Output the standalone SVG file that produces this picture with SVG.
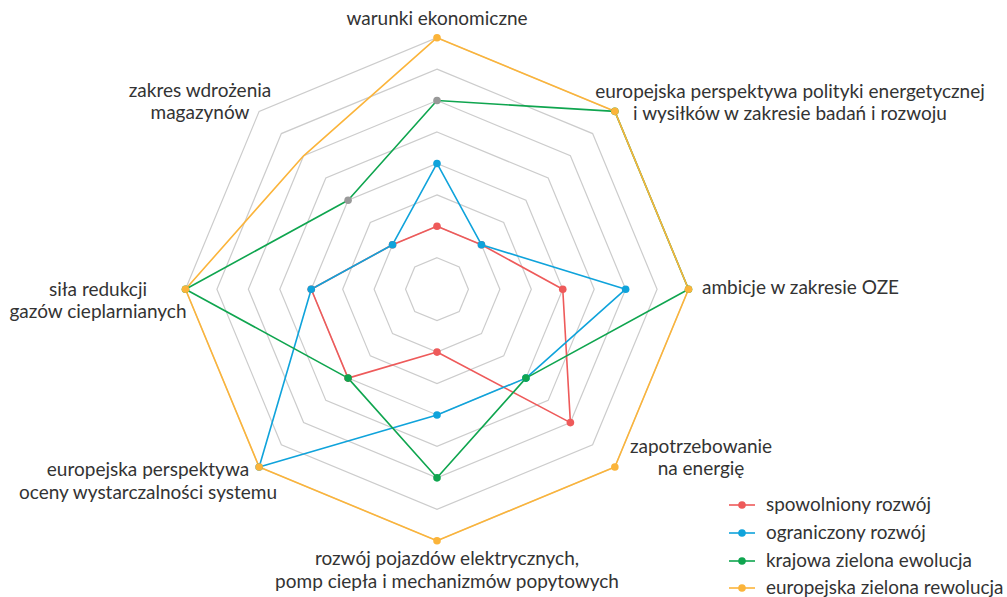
<svg xmlns="http://www.w3.org/2000/svg" width="1007" height="597" viewBox="0 0 1007 597">
<style>
.ring{fill:none;stroke:#cccccc;stroke-width:1.2}
.s{fill:none;stroke-width:1.6;stroke-linejoin:round}
.lbl{font-family:Lato,"Liberation Sans",sans-serif;font-size:19px;fill:#333333}
.leg{font-family:Lato,"Liberation Sans",sans-serif;font-size:18.9px;fill:#333333}
.mid{text-anchor:middle}
.red{stroke:#ee5a5a}.blue{stroke:#0fa3db}.green{stroke:#0fa54f}.yellow{stroke:#fbb43a}
.fr{fill:#ee5a5a}.fb{fill:#0fa3db}.fg{fill:#0fa54f}.fy{fill:#fbb43a}.fx{fill:#999999}
</style>
<rect width="1007" height="597" fill="#ffffff"/>
<g id="grid">
<polygon class="ring" points="437,257.76 459.23,266.97 468.44,289.2 459.23,311.43 437,320.64 414.77,311.43 405.56,289.2 414.77,266.97"/>
<polygon class="ring" points="437,226.32 481.46,244.74 499.88,289.2 481.46,333.66 437,352.08 392.54,333.66 374.12,289.2 392.54,244.74"/>
<polygon class="ring" points="437,194.88 503.69,222.51 531.32,289.2 503.69,355.89 437,383.52 370.31,355.89 342.68,289.2 370.31,222.51"/>
<polygon class="ring" points="437,163.44 525.92,200.28 562.76,289.2 525.92,378.12 437,414.96 348.08,378.12 311.24,289.2 348.08,200.28"/>
<polygon class="ring" points="437,132 548.16,178.04 594.2,289.2 548.16,400.36 437,446.4 325.84,400.36 279.8,289.2 325.84,178.04"/>
<polygon class="ring" points="437,100.56 570.39,155.81 625.64,289.2 570.39,422.59 437,477.84 303.61,422.59 248.36,289.2 303.61,155.81"/>
<polygon class="ring" points="437,69.12 592.62,133.58 657.08,289.2 592.62,444.82 437,509.28 281.38,444.82 216.92,289.2 281.38,133.58"/>
<polygon class="ring" points="437,37.68 614.85,111.35 688.52,289.2 614.85,467.05 437,540.72 259.15,467.05 185.48,289.2 259.15,111.35"/>
</g>
<g id="connectors">
<polygon class="s red" points="437,226.32 481.46,244.74 562.76,289.2 570.39,422.59 437,352.08 348.08,378.12 311.24,289.2 392.54,244.74"/>
<polygon class="s blue" points="437,163.44 481.46,244.74 625.64,289.2 525.92,378.12 437,414.96 259.15,467.05 311.24,289.2 392.54,244.74"/>
<polygon class="s green" points="437,100.56 614.85,111.35 688.52,289.2 525.92,378.12 437,477.84 348.08,378.12 185.48,289.2 348.08,200.28"/>
<polygon class="s yellow" points="437,37.68 614.85,111.35 688.52,289.2 614.85,467.05 437,540.72 259.15,467.05 185.48,289.2 303.61,155.81"/>
</g>
<g id="markers-spowolniony">
<circle class="fr" cx="437" cy="226.32" r="3.8"/><circle class="fr" cx="481.46" cy="244.74" r="3.8"/><circle class="fr" cx="562.76" cy="289.2" r="3.8"/><circle class="fr" cx="570.39" cy="422.59" r="3.8"/><circle class="fr" cx="437" cy="352.08" r="3.8"/><circle class="fr" cx="348.08" cy="378.12" r="3.8"/><circle class="fr" cx="311.24" cy="289.2" r="3.8"/><circle class="fr" cx="392.54" cy="244.74" r="3.8"/>
</g>
<g id="markers-ograniczony">
<circle class="fb" cx="437" cy="163.44" r="3.8"/><circle class="fb" cx="481.46" cy="244.74" r="3.8"/><circle class="fb" cx="625.64" cy="289.2" r="3.8"/><circle class="fb" cx="525.92" cy="378.12" r="3.8"/><circle class="fb" cx="437" cy="414.96" r="3.8"/><circle class="fb" cx="259.15" cy="467.05" r="3.8"/><circle class="fb" cx="311.24" cy="289.2" r="3.8"/><circle class="fb" cx="392.54" cy="244.74" r="3.8"/>
</g>
<g id="markers-krajowa">
<circle class="fx" cx="437" cy="100.56" r="3.8"/><circle class="fg" cx="614.85" cy="111.35" r="3.8"/><circle class="fg" cx="688.52" cy="289.2" r="3.8"/><circle class="fg" cx="525.92" cy="378.12" r="3.8"/><circle class="fg" cx="437" cy="477.84" r="3.8"/><circle class="fg" cx="348.08" cy="378.12" r="3.8"/><circle class="fg" cx="185.48" cy="289.2" r="3.8"/><circle class="fx" cx="348.08" cy="200.28" r="3.8"/>
</g>
<g id="markers-europejska">
<circle class="fy" cx="437" cy="37.68" r="3.8"/><circle class="fy" cx="614.85" cy="111.35" r="3.8"/><circle class="fy" cx="688.52" cy="289.2" r="3.8"/><circle class="fy" cx="614.85" cy="467.05" r="3.8"/><circle class="fy" cx="437" cy="540.72" r="3.8"/><circle class="fy" cx="259.15" cy="467.05" r="3.8"/><circle class="fy" cx="185.48" cy="289.2" r="3.8"/>
</g>
<g id="axis-labels">
<g id="label-warunki"><text class="lbl mid" x="437" y="25">warunki ekonomiczne</text></g>
<g id="label-polityki"><text class="lbl mid" x="790" y="98">europejska perspektywa polityki energetycznej</text><text class="lbl mid" x="790" y="120">i wysiłków w zakresie badań i rozwoju</text></g>
<g id="label-ambicje"><text class="lbl" x="702" y="294">ambicje w zakresie OZE</text></g>
<g id="label-zapotrzebowanie"><text class="lbl mid" x="701" y="453">zapotrzebowanie</text><text class="lbl mid" x="701" y="475">na energię</text></g>
<g id="label-pojazdy"><text class="lbl mid" x="447" y="565">rozwój pojazdów elektrycznych,</text><text class="lbl mid" x="447" y="588">pomp ciepła i mechanizmów popytowych</text></g>
<g id="label-wystarczalnosc"><text class="lbl mid" x="148" y="476">europejska perspektywa</text><text class="lbl mid" x="148" y="499">oceny wystarczalności systemu</text></g>
<g id="label-redukcja"><text class="lbl mid" x="98" y="296">siła redukcji</text><text class="lbl mid" x="98" y="318">gazów cieplarnianych</text></g>
<g id="label-magazyny"><text class="lbl mid" x="200" y="97">zakres wdrożenia</text><text class="lbl mid" x="200" y="119">magazynów</text></g>
</g>
<g id="legend">
<g id="legend-spowolniony"><line class="s red" x1="729" y1="505" x2="755" y2="505"/><circle class="fr" cx="742" cy="505" r="3.8"/><text class="leg" x="766" y="511">spowolniony rozwój</text></g>
<g id="legend-ograniczony"><line class="s blue" x1="729" y1="533" x2="755" y2="533"/><circle class="fb" cx="742" cy="533" r="3.8"/><text class="leg" x="766" y="539">ograniczony rozwój</text></g>
<g id="legend-krajowa"><line class="s green" x1="729" y1="561" x2="755" y2="561"/><circle class="fg" cx="742" cy="561" r="3.8"/><text class="leg" x="766" y="567">krajowa zielona ewolucja</text></g>
<g id="legend-europejska"><line class="s yellow" x1="729" y1="588" x2="755" y2="588"/><circle class="fy" cx="742" cy="588" r="3.8"/><text class="leg" x="766" y="594">europejska zielona rewolucja</text></g>
</g>
</svg>
